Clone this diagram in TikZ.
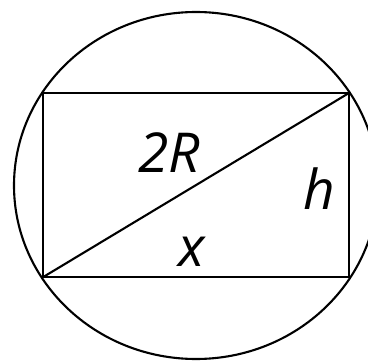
\documentclass[tikz,border=0pt]{standalone}
\usepackage{fontspec}
\usepackage{tikz}
\usetikzlibrary{calc}
\newfontfamily\labelfont{Open Sans}

\begin{document}
\begin{tikzpicture}[x=1pt, y=1pt, line width=2.1pt,
    lbl/.style={anchor=base, inner sep=0pt, font=\labelfont\itshape\fontsize{55}{60}\selectfont}]
  \clip (0,0) rectangle (368,360);
  \coordinate (bl) at (43.3,83);
  \coordinate (tr) at (349,267);
  \coordinate (centre) at (196,174.5);
  \draw (centre) ellipse [x radius=182, y radius=173.5];
  \draw (bl) rectangle (tr);
  \draw (bl) -- (tr);
  \node[lbl] (diag) at (169,188) {2R};
  \node[lbl] (height) at (319.5,150) {h};
  \node[lbl] (width) at (192,93) {x};
\end{tikzpicture}
\end{document}
